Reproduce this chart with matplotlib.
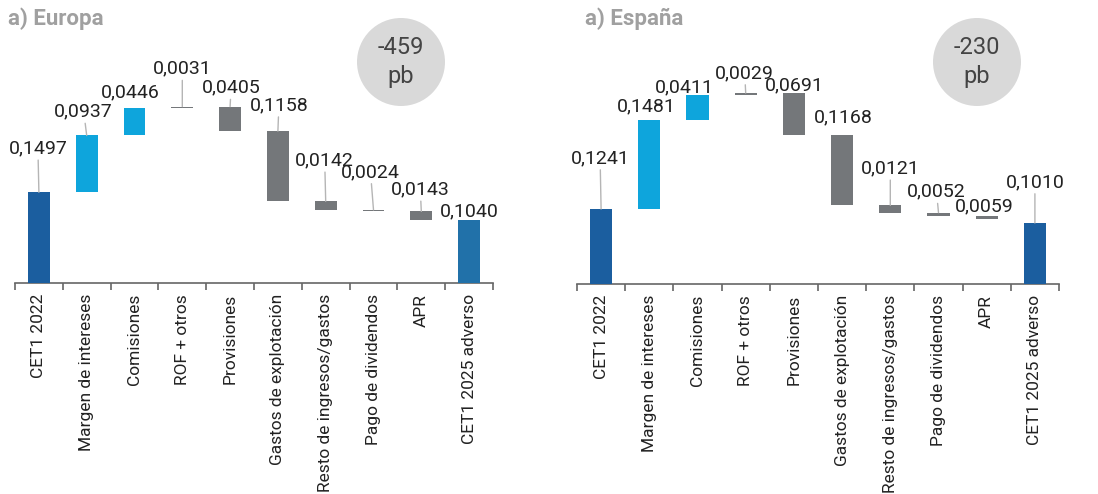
import matplotlib
matplotlib.use('Agg')
import matplotlib.pyplot as plt
from matplotlib.patches import Ellipse

categories = ['CET1 2022', 'Margen de intereses', 'Comisiones', 'ROF + otros',
              'Provisiones', 'Gastos de explotación', 'Resto de ingresos/gastos',
              'Pago de dividendos', 'APR', 'CET1 2025 adverso']
europa_vals = [0.1497, 0.0937, 0.0446, 0.0031, -0.0405, -0.1158, -0.0142, -0.0024, -0.0143, 0.1040]
espana_vals = [0.1241, 0.1481, 0.0411, 0.0029, -0.0691, -0.1168, -0.0121, -0.0052, -0.0059, 0.1010]
europa_total = '-459'
espana_total = '-230'
titles = ['a) Europa', 'a) España']

# styles
DARK = '#1b5e9f'
LIGHT = '#0ea5dc'
GRAY = '#74777a'
europa_colors = [DARK, LIGHT, LIGHT, GRAY, GRAY, GRAY, GRAY, GRAY, GRAY, '#2171a9']
espana_colors = [DARK, LIGHT, LIGHT, GRAY, GRAY, GRAY, GRAY, GRAY, GRAY, DARK]
# label offsets (pixels) relative to bar top centre
europa_off = [(-1, 44), (-3, 24), (-4, 16), (0, 38), (1, 19), (1, 26), (-1, 41), (-3, 38), (-1, 22), (0, 9)]
espana_off = [(-1, 51), (-3, 13), (-13, 7), (-1, 20), (0, 8), (1, 17), (0, 37), (-2, 21), (-2, 9), (0, 41)]

plt.rcParams['font.family'] = ['Roboto', 'DejaVu Sans']

W, H = 1098, 494
fig = plt.figure(figsize=(W / 100, H / 100), dpi=100)


def panel(rect, vals, colors, offs, ymax):
    ax = fig.add_axes(rect)
    n = len(vals)
    bottoms, heights = [], []
    cum = 0.0
    for i, v in enumerate(vals):
        if i == 0 or i == n - 1:
            bottoms.append(0.0)
            heights.append(v)
            cum = v
        else:
            bottoms.append(cum)
            heights.append(v)
            cum += v
    xs = list(range(n))
    ax.bar(xs, heights, bottom=bottoms, width=0.46, color=colors, zorder=3)
    for i, v in enumerate(vals):
        top = max(bottoms[i], bottoms[i] + heights[i])
        dx, dy = offs[i]
        txt = f"{abs(v):.4f}".replace('.', ',')
        kw = {}
        if dy > 18:
            kw['arrowprops'] = dict(arrowstyle='-', color='#b5b5b5', lw=1.0,
                                    shrinkA=0, shrinkB=0)
        ax.annotate(txt, xy=(i, top), xytext=(dx, dy), textcoords='offset pixels',
                    ha='center', va='center', fontsize=14, color='#222222',
                    zorder=4, **kw)
    ax.set_xlim(-0.5, n - 0.5)
    ax.set_ylim(0, ymax)
    for s in ['top', 'right', 'left']:
        ax.spines[s].set_visible(False)
    ax.spines['bottom'].set_color('#666666')
    ax.spines['bottom'].set_linewidth(1.2)
    ax.set_yticks([])
    ax.set_xticks([i - 0.5 for i in range(n + 1)])
    ax.set_xticklabels([])
    ax.tick_params(axis='x', which='major', length=5, width=1.2, color='#666666')
    ax.set_xticks(xs, minor=True)
    ax.set_xticklabels(categories, minor=True, rotation=90, fontsize=12.5,
                       color='#222222')
    ax.tick_params(axis='x', which='minor', length=0, pad=8)
    return ax


panel([15 / W, 1 - 283 / H, 478 / W, 278 / H], europa_vals, europa_colors, europa_off, 278 / 606)
panel([577 / W, 1 - 284 / H, 482 / W, 279 / H], espana_vals, espana_colors, espana_off, 279 / 604)

# titles
for x, t in [(8, titles[0]), (585, titles[1])]:
    fig.text(x / W, 1 - 19 / H, t, fontsize=16, color='#a0a0a0',
             fontweight='bold', va='center', ha='left')

# circles
for cx, total in [(401, europa_total), (977, espana_total)]:
    cy, r = 62, 44
    fig.add_artist(Ellipse((cx / W, 1 - cy / H), 2 * r / W, 2 * r / H,
                           transform=fig.transFigure, facecolor='#d9d9d9',
                           edgecolor='none'))
    fig.text(cx / W, 1 - 48 / H, total, fontsize=17, color='#444444',
             ha='center', va='center')
    fig.text(cx / W, 1 - 77 / H, 'pb', fontsize=17, color='#444444',
             ha='center', va='center')

fig.savefig('out.png', dpi=100)
